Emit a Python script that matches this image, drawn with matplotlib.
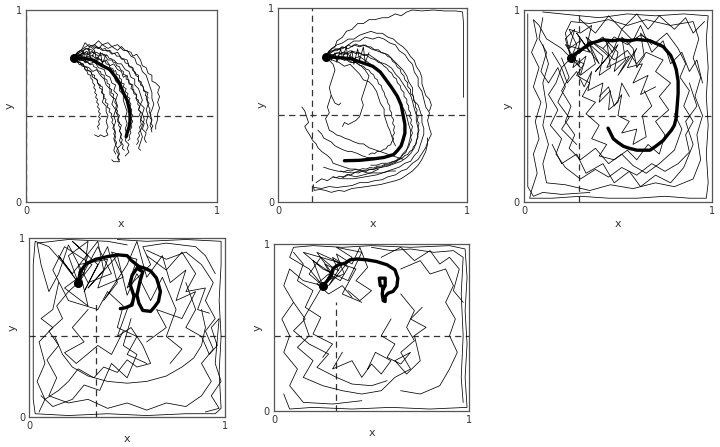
import numpy as np
import matplotlib
matplotlib.use("Agg")
import matplotlib.pyplot as plt

# start position shared by all panels
start = (0.25, 0.75)
# dashed reference lines (x of vertical line, y of horizontal line)
vline_x = [0.0, 0.18, 0.29, 0.34, 0.32]
vline_top = [1.0, 1.0, 1.0, 0.63, 0.65]
hline_y = 0.45

# thick mean paths
p1_mean = [(0.25, 0.75), (0.30, 0.75), (0.35, 0.74), (0.40, 0.71), (0.44, 0.69),
           (0.47, 0.65), (0.49, 0.62), (0.51, 0.57), (0.53, 0.53), (0.54, 0.49),
           (0.545, 0.46), (0.545, 0.42), (0.54, 0.39), (0.53, 0.36), (0.525, 0.34)]
p2_mean = [(0.25, 0.75), (0.31, 0.745), (0.38, 0.74), (0.44, 0.72), (0.50, 0.70),
           (0.54, 0.67), (0.57, 0.63), (0.60, 0.59), (0.63, 0.545), (0.65, 0.50),
           (0.66, 0.45), (0.67, 0.40), (0.67, 0.355), (0.66, 0.32), (0.65, 0.29),
           (0.63, 0.265), (0.61, 0.245), (0.56, 0.23), (0.50, 0.222), (0.43, 0.215),
           (0.35, 0.213)]
p3_mean = [(0.25, 0.75), (0.27, 0.77), (0.30, 0.79), (0.35, 0.825), (0.42, 0.845),
           (0.47, 0.84), (0.51, 0.845), (0.56, 0.84), (0.60, 0.847), (0.67, 0.84),
           (0.74, 0.81), (0.78, 0.765), (0.80, 0.72), (0.81, 0.69), (0.82, 0.63),
           (0.82, 0.565), (0.815, 0.50), (0.81, 0.44), (0.80, 0.40), (0.785, 0.375),
           (0.76, 0.345), (0.74, 0.32), (0.70, 0.29), (0.67, 0.27), (0.60, 0.27),
           (0.56, 0.28), (0.53, 0.29), (0.50, 0.31), (0.475, 0.33), (0.46, 0.36),
           (0.447, 0.385)]
p4_mean = [(0.25, 0.75), (0.26, 0.81), (0.29, 0.855), (0.34, 0.88), (0.40, 0.895),
           (0.45, 0.905), (0.50, 0.90), (0.52, 0.875), (0.56, 0.84), (0.59, 0.83),
           (0.62, 0.815), (0.65, 0.775), (0.66, 0.74), (0.67, 0.70), (0.66, 0.645),
           (0.64, 0.615), (0.62, 0.59), (0.58, 0.595), (0.56, 0.635), (0.55, 0.68),
           (0.565, 0.755), (0.58, 0.81), (0.55, 0.83), (0.525, 0.79), (0.515, 0.74),
           (0.535, 0.675), (0.525, 0.625), (0.49, 0.61), (0.465, 0.605)]
p5_mean = [(0.25, 0.75), (0.27, 0.775), (0.295, 0.815), (0.305, 0.855), (0.33, 0.875),
           (0.365, 0.885), (0.39, 0.905), (0.425, 0.91), (0.475, 0.905), (0.525, 0.895),
           (0.58, 0.875), (0.62, 0.845), (0.635, 0.795), (0.63, 0.745), (0.61, 0.715),
           (0.585, 0.705), (0.57, 0.685), (0.57, 0.655), (0.56, 0.66), (0.555, 0.70),
           (0.56, 0.745), (0.545, 0.75), (0.54, 0.795), (0.57, 0.795), (0.57, 0.75),
           (0.56, 0.73)]

# thin single trajectories
p1_thin = [
    [(0.25, 0.75), (0.27, 0.78), (0.29, 0.79), (0.31, 0.83), (0.33, 0.81), (0.36, 0.82),
     (0.38, 0.80), (0.40, 0.82), (0.43, 0.80), (0.45, 0.81), (0.48, 0.79), (0.50, 0.81),
     (0.52, 0.79), (0.55, 0.78), (0.56, 0.76), (0.58, 0.77), (0.60, 0.74), (0.61, 0.71),
     (0.63, 0.70), (0.64, 0.67), (0.66, 0.66), (0.66, 0.63), (0.68, 0.62), (0.70, 0.60),
     (0.69, 0.57), (0.70, 0.55), (0.69, 0.52), (0.70, 0.49), (0.69, 0.46), (0.69, 0.43),
     (0.68, 0.40), (0.68, 0.38)],
    [(0.25, 0.75), (0.28, 0.77), (0.30, 0.75), (0.33, 0.76), (0.35, 0.74), (0.38, 0.75),
     (0.40, 0.73), (0.42, 0.74), (0.44, 0.71), (0.46, 0.72), (0.48, 0.69), (0.50, 0.68),
     (0.51, 0.65), (0.53, 0.66), (0.54, 0.62), (0.56, 0.61), (0.56, 0.58), (0.58, 0.56),
     (0.58, 0.53), (0.60, 0.51), (0.59, 0.48), (0.61, 0.46), (0.60, 0.43), (0.62, 0.41),
     (0.61, 0.38), (0.63, 0.36), (0.62, 0.33), (0.63, 0.31)],
    [(0.25, 0.75), (0.27, 0.73), (0.30, 0.72), (0.31, 0.69), (0.34, 0.68), (0.35, 0.65),
     (0.37, 0.64), (0.38, 0.61), (0.40, 0.60), (0.40, 0.57), (0.41, 0.55), (0.40, 0.52),
     (0.42, 0.50), (0.42, 0.47), (0.43, 0.45), (0.42, 0.42), (0.43, 0.39), (0.42, 0.37),
     (0.43, 0.35), (0.41, 0.34), (0.39, 0.35), (0.38, 0.34), (0.36, 0.35)],
    [(0.25, 0.75), (0.28, 0.74), (0.31, 0.74), (0.33, 0.72), (0.36, 0.73), (0.38, 0.70),
     (0.41, 0.69), (0.42, 0.66), (0.44, 0.65), (0.45, 0.62), (0.47, 0.61), (0.46, 0.58),
     (0.48, 0.56), (0.47, 0.53), (0.48, 0.50), (0.47, 0.47), (0.49, 0.45), (0.48, 0.42),
     (0.50, 0.40), (0.49, 0.37), (0.50, 0.35), (0.49, 0.32), (0.50, 0.30), (0.48, 0.28),
     (0.49, 0.25), (0.48, 0.23), (0.49, 0.21), (0.46, 0.21), (0.45, 0.22)],
    [(0.25, 0.75), (0.28, 0.76), (0.30, 0.78), (0.33, 0.77), (0.35, 0.78), (0.38, 0.76),
     (0.41, 0.77), (0.43, 0.74), (0.46, 0.74), (0.48, 0.72), (0.50, 0.72), (0.52, 0.69),
     (0.54, 0.68), (0.55, 0.65), (0.57, 0.64), (0.57, 0.61), (0.59, 0.59), (0.60, 0.56),
     (0.61, 0.53), (0.60, 0.51), (0.62, 0.49), (0.61, 0.46), (0.62, 0.43), (0.61, 0.40),
     (0.60, 0.37), (0.61, 0.34), (0.60, 0.31), (0.59, 0.28), (0.60, 0.27)],
    [(0.25, 0.75), (0.27, 0.77), (0.30, 0.79), (0.32, 0.80), (0.35, 0.79), (0.37, 0.81),
     (0.40, 0.79), (0.43, 0.79), (0.45, 0.77), (0.48, 0.78), (0.50, 0.75), (0.53, 0.74),
     (0.54, 0.71), (0.56, 0.70), (0.57, 0.67), (0.59, 0.66), (0.59, 0.63), (0.61, 0.61),
     (0.62, 0.58), (0.64, 0.57), (0.63, 0.54), (0.64, 0.51), (0.63, 0.48), (0.64, 0.45),
     (0.63, 0.42), (0.64, 0.39), (0.63, 0.37)],
    [(0.25, 0.75), (0.28, 0.75), (0.31, 0.73), (0.34, 0.74), (0.37, 0.72), (0.40, 0.72),
     (0.42, 0.70), (0.44, 0.68), (0.46, 0.66), (0.47, 0.63), (0.49, 0.61), (0.49, 0.58),
     (0.51, 0.56), (0.51, 0.53), (0.52, 0.50), (0.53, 0.47), (0.52, 0.44), (0.53, 0.41),
     (0.52, 0.38), (0.53, 0.35), (0.52, 0.32), (0.54, 0.30), (0.53, 0.28), (0.54, 0.26),
     (0.52, 0.24)],
    [(0.25, 0.75), (0.28, 0.73), (0.30, 0.71), (0.33, 0.70), (0.35, 0.68), (0.37, 0.69),
     (0.39, 0.66), (0.41, 0.64), (0.42, 0.61), (0.44, 0.59), (0.44, 0.56), (0.46, 0.54),
     (0.45, 0.51), (0.47, 0.48), (0.46, 0.45), (0.47, 0.42), (0.46, 0.39), (0.47, 0.36),
     (0.46, 0.33), (0.47, 0.30), (0.46, 0.27), (0.47, 0.25)],
    [(0.25, 0.75), (0.27, 0.78), (0.30, 0.80), (0.33, 0.82), (0.35, 0.81), (0.38, 0.84),
     (0.40, 0.82), (0.43, 0.83), (0.45, 0.81), (0.48, 0.82), (0.51, 0.79), (0.53, 0.79),
     (0.55, 0.76), (0.57, 0.75), (0.58, 0.72), (0.60, 0.71), (0.61, 0.68), (0.63, 0.66),
     (0.64, 0.63), (0.65, 0.60), (0.66, 0.57), (0.66, 0.54), (0.67, 0.51), (0.66, 0.48),
     (0.65, 0.46), (0.66, 0.43), (0.65, 0.40), (0.66, 0.38)],
    [(0.25, 0.75), (0.26, 0.76), (0.27, 0.75), (0.28, 0.765), (0.295, 0.76), (0.30, 0.775),
     (0.315, 0.765), (0.33, 0.77), (0.335, 0.76), (0.35, 0.765), (0.36, 0.75),
     (0.375, 0.755), (0.38, 0.74), (0.395, 0.745), (0.40, 0.73), (0.415, 0.735),
     (0.42, 0.72), (0.435, 0.715), (0.44, 0.70), (0.455, 0.695), (0.46, 0.68),
     (0.47, 0.685), (0.475, 0.665), (0.49, 0.66), (0.49, 0.645), (0.50, 0.64), (0.50, 0.62),
     (0.515, 0.615), (0.51, 0.60), (0.525, 0.59), (0.52, 0.575), (0.535, 0.565),
     (0.53, 0.55), (0.545, 0.54), (0.54, 0.525), (0.55, 0.51), (0.545, 0.495),
     (0.555, 0.48), (0.55, 0.465), (0.56, 0.45), (0.55, 0.435), (0.56, 0.42),
     (0.55, 0.405), (0.555, 0.39), (0.545, 0.375), (0.55, 0.36), (0.54, 0.345),
     (0.545, 0.33), (0.535, 0.32)],
    [(0.25, 0.75), (0.265, 0.765), (0.28, 0.76), (0.29, 0.775), (0.305, 0.77),
     (0.315, 0.785), (0.33, 0.775), (0.345, 0.785), (0.36, 0.775), (0.37, 0.78),
     (0.385, 0.77), (0.40, 0.775), (0.41, 0.76), (0.425, 0.765), (0.435, 0.75),
     (0.45, 0.745), (0.455, 0.73), (0.47, 0.725), (0.475, 0.71), (0.49, 0.705),
     (0.495, 0.69), (0.51, 0.68), (0.51, 0.665), (0.525, 0.66), (0.525, 0.64),
     (0.54, 0.635), (0.54, 0.615), (0.555, 0.61), (0.55, 0.59), (0.565, 0.585),
     (0.565, 0.565), (0.58, 0.555), (0.575, 0.54), (0.59, 0.53), (0.585, 0.51),
     (0.595, 0.50), (0.59, 0.48), (0.60, 0.47), (0.595, 0.45), (0.605, 0.44), (0.60, 0.42),
     (0.605, 0.405), (0.595, 0.39), (0.60, 0.375), (0.59, 0.36), (0.595, 0.345),
     (0.585, 0.33), (0.59, 0.315), (0.58, 0.30)],
    [(0.25, 0.75), (0.26, 0.74), (0.275, 0.745), (0.285, 0.735), (0.30, 0.74),
     (0.31, 0.725), (0.325, 0.73), (0.335, 0.715), (0.35, 0.72), (0.355, 0.705),
     (0.37, 0.70), (0.375, 0.685), (0.39, 0.68), (0.395, 0.665), (0.41, 0.66),
     (0.41, 0.645), (0.425, 0.635), (0.425, 0.62), (0.44, 0.61), (0.435, 0.595),
     (0.45, 0.585), (0.445, 0.57), (0.46, 0.56), (0.455, 0.545), (0.47, 0.535),
     (0.465, 0.52), (0.475, 0.505), (0.47, 0.49), (0.48, 0.475), (0.475, 0.46),
     (0.485, 0.445), (0.48, 0.43), (0.49, 0.415), (0.485, 0.40), (0.495, 0.385),
     (0.49, 0.37), (0.50, 0.355), (0.495, 0.34), (0.505, 0.325), (0.50, 0.31),
     (0.51, 0.295), (0.505, 0.28), (0.515, 0.27)],
    [(0.25, 0.75), (0.26, 0.77), (0.275, 0.775), (0.285, 0.79), (0.30, 0.785),
     (0.31, 0.80), (0.325, 0.795), (0.335, 0.81), (0.35, 0.80), (0.36, 0.81),
     (0.375, 0.80), (0.39, 0.805), (0.40, 0.795), (0.415, 0.80), (0.425, 0.785),
     (0.44, 0.79), (0.45, 0.775), (0.465, 0.775), (0.475, 0.76), (0.49, 0.76),
     (0.50, 0.745), (0.515, 0.74), (0.52, 0.725), (0.535, 0.72), (0.54, 0.705),
     (0.555, 0.70), (0.56, 0.685), (0.575, 0.675), (0.575, 0.66), (0.59, 0.65),
     (0.59, 0.635), (0.605, 0.625), (0.60, 0.61), (0.615, 0.60), (0.615, 0.58),
     (0.63, 0.57), (0.625, 0.555), (0.64, 0.545), (0.635, 0.53), (0.645, 0.515),
     (0.64, 0.50), (0.65, 0.485), (0.645, 0.47), (0.655, 0.455), (0.65, 0.44),
     (0.66, 0.425), (0.655, 0.41), (0.665, 0.395), (0.655, 0.38), (0.66, 0.365)],
    [(0.25, 0.75), (0.255, 0.735), (0.27, 0.73), (0.28, 0.715), (0.295, 0.72),
     (0.305, 0.705), (0.32, 0.70), (0.325, 0.685), (0.34, 0.68), (0.345, 0.665),
     (0.36, 0.66), (0.36, 0.645), (0.375, 0.635), (0.375, 0.62), (0.39, 0.61),
     (0.385, 0.595), (0.40, 0.585), (0.395, 0.57), (0.41, 0.56), (0.405, 0.545),
     (0.42, 0.535), (0.415, 0.52), (0.43, 0.51), (0.425, 0.495), (0.44, 0.485),
     (0.435, 0.47), (0.45, 0.46), (0.445, 0.445), (0.455, 0.43), (0.45, 0.415),
     (0.46, 0.40), (0.455, 0.385), (0.465, 0.37), (0.46, 0.355), (0.47, 0.34),
     (0.465, 0.325), (0.475, 0.31), (0.47, 0.295), (0.48, 0.28), (0.475, 0.265),
     (0.485, 0.25), (0.48, 0.235), (0.49, 0.22)],
    [(0.25, 0.75), (0.265, 0.745), (0.27, 0.73), (0.285, 0.725), (0.29, 0.71),
     (0.305, 0.705), (0.31, 0.69), (0.32, 0.68), (0.325, 0.665), (0.34, 0.66),
     (0.34, 0.645), (0.35, 0.635), (0.35, 0.62), (0.36, 0.61), (0.355, 0.595),
     (0.365, 0.585), (0.36, 0.57), (0.37, 0.56), (0.365, 0.545), (0.375, 0.535),
     (0.37, 0.52), (0.38, 0.51), (0.375, 0.495), (0.385, 0.485), (0.38, 0.47),
     (0.39, 0.46), (0.38, 0.445), (0.39, 0.435), (0.38, 0.42), (0.385, 0.405),
     (0.375, 0.395), (0.38, 0.38)],
    [(0.25, 0.75), (0.27, 0.78), (0.28, 0.74), (0.30, 0.79), (0.31, 0.73), (0.33, 0.80),
     (0.34, 0.74), (0.36, 0.79), (0.37, 0.73), (0.39, 0.78), (0.40, 0.72), (0.42, 0.77)],
]

p2_thin = [
    [(0.25, 0.75), (0.27, 0.78), (0.30, 0.80), (0.31, 0.83), (0.34, 0.85), (0.36, 0.88),
     (0.39, 0.89), (0.42, 0.92), (0.45, 0.92), (0.48, 0.94), (0.51, 0.94), (0.55, 0.95),
     (0.58, 0.95), (0.62, 0.97), (0.65, 0.96), (0.68, 0.98), (0.71, 0.99), (0.76, 0.985),
     (0.82, 0.99), (0.88, 0.985), (0.94, 0.985), (0.975, 0.98), (0.98, 0.92),
     (0.98, 0.84), (0.98, 0.76), (0.98, 0.68), (0.98, 0.60), (0.98, 0.54)],
    [(0.25, 0.75), (0.28, 0.77), (0.31, 0.79), (0.34, 0.79), (0.37, 0.81), (0.40, 0.83),
     (0.43, 0.83), (0.46, 0.85), (0.50, 0.84), (0.53, 0.85), (0.56, 0.84), (0.59, 0.82),
     (0.62, 0.81), (0.64, 0.78), (0.67, 0.76), (0.69, 0.73), (0.71, 0.71), (0.72, 0.67),
     (0.74, 0.64), (0.74, 0.60), (0.76, 0.57), (0.77, 0.53), (0.78, 0.49), (0.80, 0.46),
     (0.79, 0.42), (0.80, 0.38), (0.81, 0.35), (0.79, 0.31), (0.78, 0.28), (0.76, 0.25),
     (0.74, 0.22), (0.71, 0.20), (0.68, 0.17), (0.65, 0.16), (0.62, 0.14), (0.58, 0.13),
     (0.55, 0.115), (0.51, 0.11), (0.47, 0.10), (0.43, 0.10), (0.39, 0.085), (0.35, 0.08),
     (0.31, 0.075), (0.27, 0.08), (0.23, 0.07), (0.19, 0.075)],
    [(0.25, 0.75), (0.29, 0.76), (0.32, 0.77), (0.35, 0.76), (0.38, 0.78), (0.42, 0.77),
     (0.45, 0.76), (0.48, 0.76), (0.51, 0.74), (0.54, 0.72), (0.57, 0.71), (0.60, 0.69),
     (0.62, 0.66), (0.64, 0.64), (0.66, 0.61), (0.68, 0.58), (0.70, 0.55), (0.71, 0.52),
     (0.72, 0.48), (0.73, 0.45), (0.73, 0.42), (0.74, 0.38), (0.74, 0.35), (0.73, 0.31),
     (0.72, 0.28), (0.70, 0.25), (0.68, 0.23), (0.65, 0.21), (0.62, 0.20), (0.58, 0.185),
     (0.55, 0.18), (0.51, 0.17), (0.47, 0.165), (0.43, 0.16), (0.39, 0.15), (0.35, 0.155),
     (0.31, 0.16), (0.27, 0.17), (0.24, 0.18)],
    [(0.25, 0.75), (0.27, 0.73), (0.29, 0.71), (0.30, 0.68), (0.29, 0.65), (0.28, 0.62),
     (0.27, 0.59), (0.28, 0.55), (0.27, 0.52), (0.26, 0.49), (0.27, 0.46), (0.25, 0.43),
     (0.26, 0.40), (0.27, 0.37), (0.29, 0.36), (0.31, 0.345), (0.33, 0.34), (0.35, 0.33),
     (0.38, 0.32), (0.40, 0.31), (0.43, 0.30), (0.45, 0.30), (0.48, 0.28), (0.51, 0.27),
     (0.54, 0.26), (0.57, 0.25), (0.60, 0.24), (0.63, 0.23), (0.66, 0.22)],
    [(0.125, 0.49), (0.14, 0.47), (0.15, 0.44), (0.16, 0.41), (0.14, 0.39), (0.15, 0.37),
     (0.17, 0.34), (0.18, 0.32), (0.20, 0.30), (0.21, 0.28), (0.23, 0.26), (0.26, 0.24),
     (0.28, 0.22), (0.29, 0.20), (0.32, 0.19), (0.35, 0.18), (0.38, 0.17), (0.41, 0.17),
     (0.44, 0.16), (0.47, 0.15), (0.51, 0.15), (0.55, 0.15), (0.59, 0.16), (0.62, 0.16)],
    [(0.21, 0.37), (0.23, 0.35), (0.24, 0.33), (0.26, 0.32), (0.28, 0.31), (0.30, 0.29),
     (0.32, 0.28), (0.34, 0.27), (0.37, 0.26), (0.39, 0.26), (0.42, 0.25), (0.44, 0.24),
     (0.47, 0.23), (0.50, 0.23), (0.53, 0.22)],
    [(0.185, 0.09), (0.19, 0.06), (0.22, 0.065), (0.25, 0.06), (0.28, 0.05), (0.32, 0.06),
     (0.35, 0.055), (0.39, 0.07), (0.43, 0.075), (0.47, 0.08), (0.50, 0.085), (0.54, 0.09),
     (0.58, 0.10), (0.62, 0.11), (0.65, 0.12), (0.68, 0.14), (0.71, 0.16), (0.74, 0.19),
     (0.76, 0.22), (0.78, 0.26), (0.79, 0.30), (0.79, 0.33)],
    [(0.25, 0.75), (0.28, 0.76), (0.31, 0.75), (0.34, 0.77), (0.37, 0.76), (0.40, 0.74),
     (0.43, 0.75), (0.46, 0.73), (0.49, 0.71), (0.51, 0.69), (0.54, 0.67), (0.56, 0.64),
     (0.58, 0.61), (0.60, 0.59), (0.62, 0.56), (0.64, 0.53), (0.65, 0.50), (0.67, 0.47),
     (0.68, 0.44), (0.69, 0.40), (0.70, 0.37), (0.70, 0.34), (0.69, 0.30), (0.68, 0.27),
     (0.66, 0.25), (0.64, 0.22), (0.61, 0.21), (0.58, 0.20), (0.55, 0.20), (0.52, 0.19),
     (0.49, 0.19)],
    [(0.25, 0.75), (0.28, 0.78), (0.31, 0.78), (0.34, 0.80), (0.37, 0.79), (0.40, 0.81),
     (0.43, 0.80), (0.46, 0.81), (0.49, 0.79), (0.52, 0.78), (0.55, 0.77), (0.58, 0.76),
     (0.60, 0.74), (0.62, 0.72), (0.64, 0.70), (0.66, 0.68), (0.68, 0.65), (0.69, 0.62),
     (0.71, 0.59), (0.71, 0.56), (0.72, 0.52), (0.74, 0.50), (0.75, 0.47), (0.76, 0.44),
     (0.76, 0.41), (0.77, 0.38), (0.77, 0.35), (0.76, 0.32), (0.75, 0.29), (0.74, 0.26),
     (0.72, 0.24), (0.70, 0.21), (0.67, 0.20), (0.64, 0.18), (0.61, 0.17), (0.58, 0.16),
     (0.55, 0.15), (0.52, 0.14), (0.49, 0.135), (0.46, 0.13), (0.43, 0.125),
     (0.40, 0.12), (0.37, 0.12), (0.34, 0.12)],
    [(0.25, 0.75), (0.29, 0.73), (0.32, 0.72), (0.35, 0.70), (0.38, 0.71), (0.41, 0.68),
     (0.43, 0.66), (0.45, 0.63), (0.48, 0.62), (0.50, 0.60), (0.52, 0.57), (0.53, 0.54),
     (0.54, 0.51), (0.56, 0.48), (0.56, 0.45), (0.57, 0.42), (0.58, 0.39), (0.59, 0.37),
     (0.60, 0.34), (0.61, 0.31), (0.62, 0.29)],
    [(0.25, 0.75), (0.28, 0.79), (0.31, 0.81), (0.34, 0.82), (0.37, 0.84), (0.40, 0.84),
     (0.43, 0.86), (0.46, 0.87), (0.49, 0.88), (0.52, 0.87), (0.55, 0.87), (0.58, 0.85),
     (0.61, 0.84), (0.63, 0.82), (0.66, 0.80), (0.68, 0.78), (0.70, 0.75), (0.72, 0.73),
     (0.73, 0.70), (0.75, 0.67), (0.76, 0.64), (0.76, 0.61), (0.77, 0.58), (0.78, 0.55),
     (0.80, 0.53), (0.81, 0.50), (0.80, 0.47)],
    [(0.25, 0.75), (0.29, 0.75), (0.32, 0.74), (0.35, 0.74), (0.38, 0.72), (0.41, 0.72),
     (0.44, 0.70), (0.46, 0.68), (0.48, 0.65), (0.47, 0.62), (0.46, 0.59), (0.45, 0.56),
     (0.44, 0.53), (0.45, 0.50), (0.44, 0.47), (0.43, 0.44), (0.41, 0.42), (0.39, 0.41),
     (0.37, 0.40), (0.35, 0.41), (0.34, 0.39)],
    [(0.28, 0.55), (0.29, 0.53), (0.30, 0.51), (0.32, 0.50), (0.33, 0.51)],
    [(0.20, 0.10), (0.23, 0.12), (0.26, 0.11), (0.29, 0.13), (0.33, 0.12), (0.37, 0.14),
     (0.41, 0.13), (0.45, 0.14), (0.49, 0.15), (0.53, 0.17)],
    [(0.25, 0.75), (0.27, 0.76), (0.29, 0.755), (0.31, 0.77), (0.33, 0.765), (0.35, 0.775),
     (0.37, 0.765), (0.39, 0.775), (0.41, 0.765), (0.43, 0.77), (0.45, 0.755),
     (0.47, 0.755), (0.49, 0.74), (0.51, 0.735), (0.53, 0.72), (0.545, 0.715), (0.56, 0.70),
     (0.575, 0.69), (0.585, 0.675), (0.60, 0.665), (0.61, 0.645), (0.625, 0.635),
     (0.63, 0.615), (0.645, 0.60), (0.65, 0.58), (0.665, 0.565), (0.665, 0.545),
     (0.68, 0.53), (0.68, 0.51), (0.69, 0.495), (0.69, 0.475), (0.70, 0.46), (0.695, 0.44),
     (0.705, 0.425), (0.70, 0.405), (0.71, 0.39), (0.705, 0.37), (0.71, 0.355),
     (0.70, 0.335), (0.705, 0.32), (0.695, 0.30), (0.69, 0.285), (0.68, 0.27),
     (0.675, 0.255), (0.66, 0.245), (0.65, 0.23), (0.635, 0.225), (0.62, 0.21),
     (0.60, 0.205), (0.585, 0.195), (0.565, 0.195), (0.545, 0.185), (0.525, 0.185),
     (0.505, 0.175), (0.485, 0.178), (0.465, 0.17), (0.445, 0.172), (0.425, 0.165),
     (0.405, 0.168), (0.385, 0.16), (0.365, 0.163), (0.345, 0.155), (0.33, 0.16)],
    [(0.25, 0.75), (0.27, 0.74), (0.29, 0.745), (0.31, 0.735), (0.33, 0.74), (0.35, 0.73),
     (0.37, 0.735), (0.39, 0.72), (0.41, 0.72), (0.43, 0.705), (0.45, 0.70),
     (0.465, 0.685), (0.48, 0.68), (0.49, 0.665), (0.505, 0.655), (0.51, 0.64),
     (0.525, 0.63), (0.53, 0.61), (0.545, 0.60), (0.55, 0.58), (0.56, 0.565),
     (0.565, 0.545), (0.575, 0.53), (0.58, 0.51), (0.59, 0.495), (0.59, 0.475),
     (0.60, 0.46), (0.60, 0.44), (0.61, 0.425), (0.605, 0.405), (0.615, 0.39),
     (0.61, 0.37), (0.615, 0.355), (0.605, 0.34), (0.61, 0.325), (0.60, 0.31),
     (0.595, 0.295), (0.58, 0.29), (0.57, 0.275), (0.555, 0.27), (0.54, 0.26),
     (0.525, 0.262), (0.51, 0.25), (0.495, 0.253), (0.48, 0.245)],
    [(0.25, 0.75), (0.265, 0.77), (0.285, 0.775), (0.30, 0.79), (0.32, 0.785),
     (0.335, 0.80), (0.355, 0.795), (0.37, 0.81), (0.39, 0.80), (0.41, 0.815),
     (0.43, 0.805), (0.45, 0.81), (0.47, 0.80), (0.49, 0.80), (0.51, 0.785),
     (0.53, 0.785), (0.545, 0.77), (0.565, 0.765), (0.58, 0.75), (0.595, 0.745),
     (0.605, 0.725), (0.62, 0.715), (0.63, 0.695), (0.645, 0.685), (0.65, 0.665),
     (0.665, 0.65), (0.67, 0.63), (0.685, 0.615), (0.685, 0.595), (0.70, 0.58),
     (0.70, 0.56), (0.715, 0.545), (0.715, 0.525), (0.725, 0.51), (0.725, 0.49),
     (0.735, 0.475), (0.73, 0.455), (0.74, 0.44), (0.735, 0.42), (0.745, 0.405),
     (0.74, 0.385), (0.745, 0.37), (0.735, 0.35), (0.74, 0.335), (0.73, 0.315),
     (0.73, 0.30), (0.715, 0.285), (0.71, 0.27), (0.695, 0.26), (0.685, 0.245),
     (0.67, 0.24), (0.655, 0.225), (0.64, 0.22), (0.62, 0.205), (0.605, 0.20),
     (0.585, 0.19), (0.565, 0.19), (0.545, 0.178), (0.525, 0.18), (0.505, 0.168),
     (0.485, 0.17), (0.465, 0.158), (0.445, 0.16), (0.425, 0.15), (0.405, 0.152),
     (0.385, 0.14), (0.365, 0.142), (0.345, 0.13), (0.325, 0.133), (0.305, 0.125),
     (0.29, 0.13)],
    [(0.25, 0.75), (0.27, 0.78), (0.28, 0.73), (0.30, 0.77), (0.31, 0.72), (0.33, 0.79),
     (0.34, 0.74), (0.36, 0.80), (0.37, 0.73), (0.39, 0.78), (0.40, 0.71), (0.42, 0.79),
     (0.43, 0.73), (0.45, 0.80), (0.46, 0.72), (0.48, 0.77)],
]

p3_thin = [
    [(0.25, 0.75), (0.20, 0.80), (0.12, 0.85), (0.08, 0.92), (0.05, 0.95), (0.07, 0.85),
     (0.04, 0.78), (0.08, 0.70), (0.05, 0.60), (0.09, 0.52), (0.06, 0.42), (0.08, 0.33),
     (0.05, 0.25), (0.07, 0.15), (0.04, 0.06), (0.03, 0.02), (0.15, 0.02), (0.30, 0.03),
     (0.45, 0.02), (0.60, 0.02), (0.75, 0.03), (0.88, 0.02), (0.97, 0.02), (0.98, 0.10),
     (0.97, 0.25), (0.98, 0.40), (0.97, 0.55), (0.98, 0.70), (0.97, 0.85), (0.98, 0.97),
     (0.85, 0.98), (0.70, 0.97), (0.55, 0.98), (0.40, 0.96), (0.30, 0.97), (0.20, 0.98),
     (0.10, 0.99)],
    [(0.25, 0.75), (0.30, 0.78), (0.35, 0.84), (0.42, 0.80), (0.48, 0.86), (0.55, 0.82),
     (0.62, 0.87), (0.70, 0.83), (0.76, 0.88), (0.82, 0.80), (0.86, 0.72), (0.83, 0.65),
     (0.88, 0.58), (0.85, 0.50), (0.90, 0.42), (0.86, 0.35), (0.88, 0.26), (0.82, 0.20),
     (0.75, 0.16), (0.68, 0.20), (0.60, 0.14), (0.52, 0.18), (0.45, 0.13), (0.38, 0.17),
     (0.30, 0.12), (0.22, 0.18), (0.17, 0.25), (0.20, 0.33), (0.14, 0.40), (0.18, 0.48),
     (0.13, 0.56), (0.17, 0.62), (0.20, 0.70), (0.15, 0.78)],
    [(0.25, 0.75), (0.32, 0.72), (0.28, 0.66), (0.35, 0.62), (0.31, 0.55), (0.38, 0.52),
     (0.33, 0.46), (0.40, 0.40), (0.36, 0.33), (0.44, 0.30), (0.40, 0.24), (0.48, 0.22),
     (0.55, 0.27), (0.60, 0.22), (0.66, 0.30), (0.72, 0.25), (0.75, 0.35), (0.70, 0.42),
     (0.77, 0.48), (0.72, 0.55), (0.78, 0.62), (0.70, 0.68), (0.74, 0.74), (0.65, 0.78),
     (0.60, 0.72), (0.55, 0.79), (0.48, 0.74), (0.42, 0.80)],
    [(0.25, 0.75), (0.30, 0.70), (0.22, 0.82), (0.35, 0.78), (0.28, 0.88), (0.40, 0.72),
     (0.33, 0.86), (0.45, 0.76), (0.38, 0.68), (0.50, 0.82), (0.44, 0.70), (0.56, 0.76),
     (0.50, 0.66), (0.60, 0.80), (0.55, 0.70), (0.63, 0.72), (0.58, 0.62), (0.66, 0.66),
     (0.62, 0.56), (0.70, 0.60)],
    [(0.25, 0.75), (0.22, 0.88), (0.25, 0.94), (0.35, 0.93), (0.45, 0.95), (0.55, 0.92),
     (0.65, 0.95), (0.78, 0.92), (0.90, 0.94), (0.93, 0.85), (0.90, 0.75), (0.94, 0.65),
     (0.91, 0.55), (0.95, 0.45), (0.92, 0.35), (0.94, 0.22), (0.90, 0.12), (0.80, 0.08),
     (0.70, 0.10), (0.58, 0.07), (0.46, 0.09), (0.35, 0.06), (0.22, 0.09), (0.12, 0.10),
     (0.10, 0.20), (0.13, 0.30), (0.10, 0.40), (0.12, 0.50), (0.10, 0.62), (0.13, 0.72),
     (0.10, 0.82)],
    [(0.40, 0.55), (0.45, 0.60), (0.48, 0.50), (0.52, 0.56), (0.50, 0.45), (0.56, 0.42),
     (0.52, 0.36), (0.60, 0.38), (0.58, 0.30), (0.65, 0.34), (0.63, 0.45), (0.68, 0.50),
     (0.64, 0.58)],
    [(0.20, 0.75), (0.24, 0.65), (0.20, 0.58), (0.25, 0.50), (0.22, 0.42), (0.27, 0.35),
     (0.24, 0.28), (0.30, 0.22), (0.38, 0.28), (0.45, 0.20), (0.52, 0.25), (0.58, 0.19),
     (0.65, 0.15), (0.72, 0.20), (0.80, 0.27), (0.84, 0.38), (0.80, 0.46)],
    [(0.25, 0.75), (0.28, 0.82), (0.24, 0.90), (0.30, 0.88), (0.36, 0.92), (0.33, 0.80),
     (0.42, 0.86), (0.47, 0.78), (0.52, 0.90), (0.58, 0.84), (0.62, 0.92), (0.68, 0.78),
     (0.74, 0.84), (0.78, 0.72), (0.84, 0.78), (0.88, 0.68), (0.92, 0.74), (0.95, 0.62)],
    [(0.10, 0.96), (0.08, 0.85), (0.12, 0.78), (0.09, 0.68), (0.13, 0.62), (0.18, 0.70),
     (0.22, 0.60), (0.18, 0.52), (0.24, 0.44), (0.20, 0.38), (0.28, 0.30)],
    [(0.02, 0.98), (0.02, 0.70), (0.02, 0.40), (0.02, 0.08), (0.05, 0.03), (0.10, 0.05),
     (0.20, 0.04), (0.35, 0.05)],
    [(0.25, 0.75), (0.22, 0.85), (0.27, 0.90), (0.24, 0.80), (0.30, 0.84), (0.26, 0.70),
     (0.33, 0.76), (0.30, 0.66), (0.38, 0.72), (0.35, 0.82), (0.42, 0.76), (0.40, 0.66),
     (0.46, 0.70), (0.44, 0.84), (0.50, 0.78), (0.48, 0.68), (0.54, 0.74), (0.52, 0.86),
     (0.58, 0.80), (0.60, 0.70), (0.64, 0.76), (0.62, 0.88), (0.68, 0.82)],
    [(0.25, 0.75), (0.20, 0.70), (0.23, 0.62), (0.28, 0.68), (0.32, 0.60), (0.36, 0.68),
     (0.34, 0.58), (0.42, 0.62), (0.40, 0.52), (0.46, 0.58), (0.45, 0.48), (0.50, 0.52),
     (0.52, 0.62), (0.56, 0.55)],
    [(0.30, 0.95), (0.38, 0.88), (0.45, 0.97), (0.52, 0.90), (0.60, 0.98), (0.66, 0.90),
     (0.72, 0.97), (0.80, 0.90), (0.86, 0.96), (0.90, 0.88), (0.96, 0.94)],
    [(0.15, 0.30), (0.20, 0.20), (0.28, 0.25), (0.33, 0.15), (0.42, 0.20), (0.48, 0.10),
     (0.56, 0.16), (0.62, 0.08), (0.70, 0.14), (0.78, 0.10), (0.85, 0.18), (0.90, 0.30),
     (0.86, 0.42), (0.92, 0.50), (0.88, 0.62)],
]

p4_thin = [
    [(0.25, 0.75), (0.18, 0.85), (0.10, 0.95), (0.03, 0.98), (0.02, 0.85), (0.02, 0.60),
     (0.02, 0.35), (0.02, 0.10), (0.03, 0.02), (0.20, 0.01), (0.40, 0.02), (0.60, 0.01),
     (0.80, 0.02), (0.95, 0.02), (0.98, 0.05), (0.97, 0.25), (0.98, 0.45), (0.97, 0.65),
     (0.98, 0.85), (0.98, 0.98), (0.80, 0.99), (0.60, 0.98), (0.45, 0.99)],
    [(0.25, 0.75), (0.20, 0.70), (0.14, 0.62), (0.17, 0.55), (0.10, 0.48), (0.15, 0.40),
     (0.09, 0.32), (0.14, 0.22), (0.10, 0.12), (0.20, 0.08), (0.30, 0.10), (0.40, 0.05),
     (0.50, 0.08), (0.60, 0.04), (0.70, 0.08), (0.80, 0.06), (0.88, 0.12), (0.93, 0.20),
     (0.88, 0.30), (0.94, 0.38), (0.90, 0.48), (0.95, 0.55), (0.90, 0.65), (0.94, 0.75),
     (0.88, 0.85), (0.80, 0.92), (0.70, 0.88), (0.60, 0.93)],
    [(0.13, 0.45), (0.17, 0.35), (0.22, 0.28), (0.30, 0.23), (0.40, 0.20), (0.50, 0.19),
     (0.60, 0.20), (0.70, 0.23), (0.78, 0.28), (0.84, 0.33), (0.88, 0.40), (0.90, 0.50),
     (0.88, 0.60)],
    [(0.55, 0.70), (0.50, 0.60), (0.45, 0.45), (0.52, 0.50), (0.58, 0.40), (0.62, 0.30),
     (0.55, 0.28), (0.50, 0.32), (0.45, 0.25), (0.38, 0.28), (0.33, 0.22), (0.25, 0.27),
     (0.20, 0.20), (0.15, 0.15), (0.08, 0.10)],
    [(0.25, 0.75), (0.30, 0.90), (0.22, 0.98), (0.35, 0.85), (0.28, 0.70), (0.40, 0.95),
     (0.45, 0.75), (0.38, 0.65), (0.50, 0.85), (0.55, 0.98), (0.60, 0.78), (0.68, 0.90),
     (0.72, 0.75), (0.80, 0.82), (0.75, 0.65), (0.85, 0.70), (0.78, 0.55), (0.65, 0.60),
     (0.70, 0.50), (0.60, 0.42)],
    [(0.25, 0.75), (0.20, 0.90), (0.30, 0.98), (0.28, 0.80), (0.18, 0.72), (0.30, 0.62),
     (0.25, 0.85), (0.40, 0.88), (0.35, 0.72), (0.48, 0.78), (0.42, 0.92), (0.55, 0.88),
     (0.50, 0.72), (0.62, 0.85), (0.58, 0.95), (0.70, 0.97), (0.85, 0.95), (0.90, 0.90),
     (0.95, 0.80)],
    [(0.80, 0.75), (0.85, 0.60), (0.80, 0.50), (0.88, 0.45), (0.92, 0.35), (0.96, 0.40),
     (0.93, 0.50), (0.97, 0.55), (0.95, 0.30), (0.98, 0.20), (0.93, 0.12), (0.97, 0.05),
     (0.90, 0.03)],
    [(0.15, 0.75), (0.12, 0.60), (0.06, 0.55), (0.12, 0.50), (0.05, 0.42), (0.08, 0.30),
     (0.04, 0.20), (0.08, 0.10), (0.05, 0.03)],
    [(0.25, 0.75), (0.35, 0.95), (0.42, 0.80), (0.30, 0.75), (0.20, 0.96), (0.15, 0.80),
     (0.10, 0.70), (0.06, 0.85), (0.04, 0.97), (0.20, 0.99), (0.40, 0.98), (0.50, 0.96)],
    [(0.52, 0.55), (0.48, 0.40), (0.55, 0.35), (0.50, 0.22), (0.42, 0.30), (0.36, 0.15),
     (0.28, 0.18), (0.22, 0.10), (0.12, 0.06), (0.06, 0.12)],
    [(0.30, 0.60), (0.22, 0.50), (0.28, 0.42), (0.18, 0.36), (0.24, 0.30), (0.35, 0.40),
     (0.42, 0.35), (0.48, 0.48)],
    [(0.25, 0.75), (0.15, 0.90), (0.22, 0.80), (0.35, 0.98), (0.38, 0.82), (0.30, 0.72),
     (0.45, 0.90), (0.50, 0.68), (0.55, 0.80), (0.62, 0.65), (0.68, 0.78), (0.75, 0.60),
     (0.70, 0.45), (0.78, 0.38), (0.72, 0.30)],
    [(0.25, 0.75), (0.32, 0.85), (0.18, 0.95), (0.12, 0.82), (0.20, 0.65), (0.35, 0.60),
     (0.40, 0.70), (0.48, 0.62), (0.45, 0.50), (0.55, 0.45), (0.50, 0.35), (0.60, 0.30)],
    [(0.60, 0.90), (0.70, 0.82), (0.78, 0.92), (0.85, 0.80), (0.80, 0.70), (0.90, 0.72),
     (0.86, 0.60), (0.92, 0.58)],
]

p5_thin = [
    [(0.25, 0.75), (0.18, 0.85), (0.08, 0.92), (0.10, 0.98), (0.20, 0.99), (0.35, 0.98),
     (0.50, 0.99), (0.70, 0.98), (0.90, 0.99), (0.98, 0.97), (0.99, 0.80), (0.98, 0.60),
     (0.99, 0.40), (0.98, 0.20), (0.99, 0.02), (0.80, 0.01), (0.60, 0.02), (0.40, 0.01),
     (0.20, 0.02), (0.08, 0.01), (0.05, 0.10)],
    [(0.25, 0.75), (0.15, 0.78), (0.08, 0.85), (0.05, 0.75), (0.10, 0.65), (0.04, 0.55),
     (0.08, 0.45), (0.05, 0.35), (0.12, 0.25), (0.08, 0.15), (0.15, 0.05), (0.30, 0.04),
     (0.45, 0.06)],
    [(0.25, 0.75), (0.20, 0.65), (0.15, 0.55), (0.18, 0.45), (0.12, 0.38), (0.20, 0.30),
     (0.15, 0.20), (0.25, 0.15), (0.35, 0.12), (0.45, 0.10), (0.55, 0.12), (0.62, 0.20),
     (0.70, 0.25), (0.65, 0.35), (0.72, 0.42), (0.68, 0.50), (0.72, 0.60), (0.65, 0.70)],
    [(0.60, 0.55), (0.55, 0.45), (0.62, 0.40), (0.58, 0.32), (0.65, 0.28), (0.70, 0.35),
     (0.62, 0.30), (0.68, 0.22), (0.75, 0.30), (0.72, 0.45), (0.78, 0.50), (0.70, 0.55),
     (0.76, 0.62)],
    [(0.65, 0.85), (0.75, 0.90), (0.80, 0.82), (0.88, 0.85), (0.92, 0.75), (0.88, 0.65),
     (0.93, 0.55), (0.90, 0.45), (0.94, 0.35), (0.90, 0.25), (0.85, 0.15), (0.75, 0.10),
     (0.65, 0.12)],
    [(0.25, 0.75), (0.20, 0.90), (0.30, 0.82), (0.22, 0.95), (0.35, 0.88), (0.28, 0.75),
     (0.40, 0.92), (0.32, 0.98), (0.45, 0.95), (0.38, 0.78), (0.25, 0.85), (0.15, 0.95),
     (0.30, 0.90), (0.42, 0.85), (0.35, 0.70), (0.45, 0.65)],
    [(0.35, 0.35), (0.30, 0.25), (0.40, 0.30), (0.45, 0.20), (0.50, 0.28), (0.55, 0.22),
     (0.60, 0.30), (0.52, 0.35), (0.48, 0.25)],
    [(0.25, 0.75), (0.30, 0.80), (0.26, 0.88), (0.33, 0.84), (0.30, 0.92), (0.38, 0.86),
     (0.34, 0.78), (0.28, 0.82), (0.22, 0.76), (0.28, 0.70), (0.35, 0.75), (0.40, 0.68)],
    [(0.10, 0.65), (0.16, 0.55), (0.10, 0.48), (0.18, 0.40), (0.28, 0.34), (0.22, 0.26),
     (0.32, 0.20), (0.40, 0.16), (0.50, 0.15), (0.58, 0.18)],
    [(0.50, 0.98), (0.60, 0.96), (0.70, 0.97), (0.82, 0.95), (0.92, 0.96), (0.97, 0.92),
     (0.96, 0.70), (0.97, 0.45), (0.96, 0.20), (0.97, 0.05)],
    [(0.25, 0.75), (0.18, 0.82), (0.24, 0.92), (0.30, 0.86), (0.27, 0.78), (0.36, 0.82),
     (0.32, 0.94), (0.40, 0.88), (0.44, 0.98), (0.48, 0.86), (0.42, 0.78), (0.50, 0.72),
     (0.44, 0.66), (0.38, 0.72)],
    [(0.10, 0.95), (0.15, 0.88), (0.12, 0.78), (0.20, 0.72), (0.16, 0.62), (0.24, 0.56),
     (0.20, 0.46), (0.30, 0.40), (0.25, 0.32)],
    [(0.55, 0.92), (0.65, 0.98), (0.72, 0.90), (0.80, 0.96), (0.85, 0.88), (0.90, 0.92),
     (0.95, 0.85), (0.92, 0.72), (0.97, 0.65)],
]

panels = [
    (p1_mean, p1_thin, [0.0361, 0.548, 0.265, 0.4295]),
    (p2_mean, p2_thin, [0.3865, 0.548, 0.2625, 0.434]),
    (p3_mean, p3_thin, [0.7278, 0.548, 0.261, 0.4295]),
    (p4_mean, p4_thin, [0.0407, 0.0664, 0.2718, 0.4018]),
    (p5_mean, p5_thin, [0.3806, 0.0812, 0.2708, 0.373]),
]

fig = plt.figure(figsize=(7.2, 4.47), dpi=100)

for i, (mean_path, thin_paths, rect) in enumerate(panels):
    ax = fig.add_axes(rect)
    for path in thin_paths:
        xy = np.array(path)
        ax.plot(xy[:, 0], xy[:, 1], color="black", lw=0.55, zorder=2)
    m = np.array(mean_path)
    ax.plot(m[:, 0], m[:, 1], color="black", lw=2.4, zorder=3,
            solid_capstyle="round", solid_joinstyle="round")
    ax.plot(start[0], start[1], "o", color="black", ms=5.5, zorder=4)

    ax.axhline(hline_y, color="#333333", lw=0.9, ls=(0, (5, 3.5)), zorder=1)
    ax.axvline(vline_x[i], ymin=0, ymax=vline_top[i], color="#333333", lw=0.9,
               ls=(0, (5, 3.5)), zorder=1)

    ax.set_xlim(0, 1)
    ax.set_ylim(0, 1)
    ax.set_xticks([0, 1])
    ax.set_yticks([0, 1])
    ax.set_xticklabels(["0", "1"])
    ax.set_yticklabels(["0", "1"])
    ax.tick_params(length=0, pad=3, labelsize=7, labelcolor="#333333")
    ax.set_xlabel("x", fontsize=8, color="#333333", labelpad=2)
    ax.set_ylabel("y", fontsize=8, color="#333333", labelpad=1)
    for s in ax.spines.values():
        s.set_color("#555555")
        s.set_linewidth(0.9)

fig.savefig("out.png", dpi=100)
